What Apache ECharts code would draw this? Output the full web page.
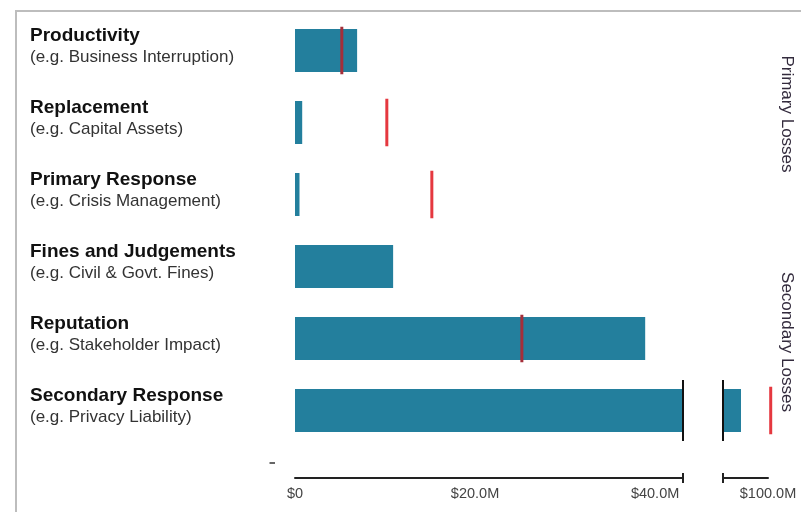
<!DOCTYPE html>
<html><head><meta charset="utf-8">
<script src="https://cdn.jsdelivr.net/npm/echarts@6/dist/echarts.min.js"></script>
<style>html,body{margin:0;padding:0;background:#fff}#c{width:801px;height:512px}</style>
</head><body><div id="c"></div>
<script>
const categories = ['Productivity', 'Replacement', 'Primary Response', 'Fines and Judgements', 'Reputation', 'Secondary Response'];
const examples = ['(e.g. Business Interruption)', '(e.g. Capital Assets)', '(e.g. Crisis Management)', '(e.g. Civil & Govt. Fines)', '(e.g. Stakeholder Impact)', '(e.g. Privacy Liability)'];
const actualValues = [6.9, 0.8, 0.5, 10.9, 38.9, 97.0];
const targetValues = [5.2, 10.2, 15.2, null, 25.2, 100.3];
const groupLabels = ['Primary Losses', 'Secondary Losses'];
const lowerRange = [0, 43.1];
const upperRange = [95, 100];
const lowerInterval = 20;
const upperInterval = 5;
const brokenRow = 5;

const FONT = "'Liberation Sans', Arial, sans-serif";
const BAR = '#237f9d';
const RED = '#e5383f';
const RED_ON_BAR = '#a52f3a';
const AXIS_OFFSET = 31.5;

const chart = echarts.init(document.getElementById('c'), null, {renderer: 'canvas'});

function fmt(v) { return v === 0 ? '$0' : '$' + v.toFixed(1) + 'M'; }

function targetRenderer(range, side) {
  return function (params, api) {
    const v = api.value(0), cat = api.value(1);
    if (v == null || isNaN(v)) return;
    if (side === 'low' && v > range[1]) return;
    if (side === 'high' && v < range[0]) return;
    const p = api.coord([v, cat]);
    const h = api.size([0, 1])[1] * 0.66;
    const onBar = v <= actualValues[cat];
    return {type: 'line', shape: {x1: p[0], y1: p[1] - h / 2, x2: p[0], y2: p[1] + h / 2},
      style: {stroke: onBar ? RED_ON_BAR : RED, lineWidth: 3}};
  };
}
function breakRenderer(params, api) {
  const v = api.value(0), cat = api.value(1);
  const p = api.coord([v, cat]);
  const h = api.size([0, 1])[1] * 0.85;
  const cs = params.coordSys;
  const ay = cs.y + cs.height + AXIS_OFFSET;
  return {type: 'group', children: [
    {type: 'line', shape: {x1: p[0], y1: p[1] - h / 2, x2: p[0], y2: p[1] + h / 2}, style: {stroke: '#111', lineWidth: 2}},
    {type: 'line', shape: {x1: p[0], y1: ay - 5, x2: p[0], y2: ay + 5}, style: {stroke: '#222', lineWidth: 2}}
  ]};
}

const catAxisBase = {type: 'category', data: categories, inverse: true,
  axisLine: {show: false}, axisTick: {show: false}, splitLine: {show: false}};

const option = {
  animation: false,
  textStyle: {fontFamily: FONT},
  grid: [
    {left: 295, width: 388, top: 14.5, height: 432},
    {left: 723, width: 45, top: 14.5, height: 432}
  ],
  xAxis: [
    {type: 'value', gridIndex: 0, min: lowerRange[0], max: lowerRange[1], interval: lowerInterval, offset: AXIS_OFFSET,
      axisLine: {show: true, lineStyle: {color: '#222', width: 2}}, axisTick: {show: false}, splitLine: {show: false},
      axisLabel: {showMaxLabel: false, margin: 8, color: '#444', fontSize: 14.5, fontFamily: FONT, formatter: fmt}},
    {type: 'value', gridIndex: 1, min: upperRange[0], max: upperRange[1], interval: upperInterval, offset: AXIS_OFFSET,
      axisLine: {show: true, lineStyle: {color: '#222', width: 2}}, axisTick: {show: false}, splitLine: {show: false},
      axisLabel: {showMinLabel: false, showMaxLabel: true, margin: 8, color: '#444', fontSize: 14.5, fontFamily: FONT, formatter: fmt}}
  ],
  yAxis: [
    Object.assign({}, catAxisBase, {gridIndex: 0,
      axisLabel: {align: 'left', margin: 265, padding: [0, 0, 7.5, 0],
        formatter: (v, i) => '{t|' + v + '}\n{s|' + examples[i] + '}',
        rich: {
          t: {fontSize: 19, fontWeight: 'bold', color: '#111', lineHeight: 21, fontFamily: FONT},
          s: {fontSize: 17, color: '#333', lineHeight: 21, fontFamily: FONT}
        }}}),
    Object.assign({}, catAxisBase, {gridIndex: 1, axisLabel: {show: false}})
  ],
  series: [
    {type: 'bar', xAxisIndex: 0, yAxisIndex: 0, data: actualValues, barWidth: 43, itemStyle: {color: BAR}, clip: true},
    {type: 'bar', xAxisIndex: 1, yAxisIndex: 1, data: actualValues, barWidth: 43, itemStyle: {color: BAR}, clip: true},
    {type: 'custom', xAxisIndex: 0, yAxisIndex: 0, clip: false, z: 5, renderItem: targetRenderer(lowerRange, 'low'),
      data: targetValues.map((v, i) => [v == null ? NaN : v, i]), encode: {x: 0, y: 1}},
    {type: 'custom', xAxisIndex: 1, yAxisIndex: 1, clip: false, z: 5, renderItem: targetRenderer(upperRange, 'high'),
      data: targetValues.map((v, i) => [v == null ? NaN : v, i]), encode: {x: 0, y: 1}},
    {type: 'custom', xAxisIndex: 0, yAxisIndex: 0, clip: false, z: 6, renderItem: breakRenderer,
      data: [[lowerRange[1], brokenRow]], encode: {x: 0, y: 1}},
    {type: 'custom', xAxisIndex: 1, yAxisIndex: 1, clip: false, z: 6, renderItem: breakRenderer,
      data: [[upperRange[0], brokenRow]], encode: {x: 0, y: 1}}
  ],
  graphic: [
    {type: 'polyline', shape: {points: [[16, 514], [16, 11], [803, 11]]}, style: {stroke: '#bdbdbd', lineWidth: 2, fill: null}, silent: true},
    {type: 'line', shape: {x1: 269.5, y1: 463, x2: 275, y2: 463}, style: {stroke: '#333', lineWidth: 1.5}, silent: true},
    {type: 'text', x: 787, y: 114, rotation: -Math.PI / 2,
      style: {text: groupLabels[0], fontSize: 17, fontFamily: FONT, fill: '#332b3d', align: 'center', verticalAlign: 'middle'}},
    {type: 'text', x: 787, y: 342, rotation: -Math.PI / 2,
      style: {text: groupLabels[1], fontSize: 17, fontFamily: FONT, fill: '#332b3d', align: 'center', verticalAlign: 'middle'}}
  ]
};
chart.setOption(option);
</script>
</body></html>
